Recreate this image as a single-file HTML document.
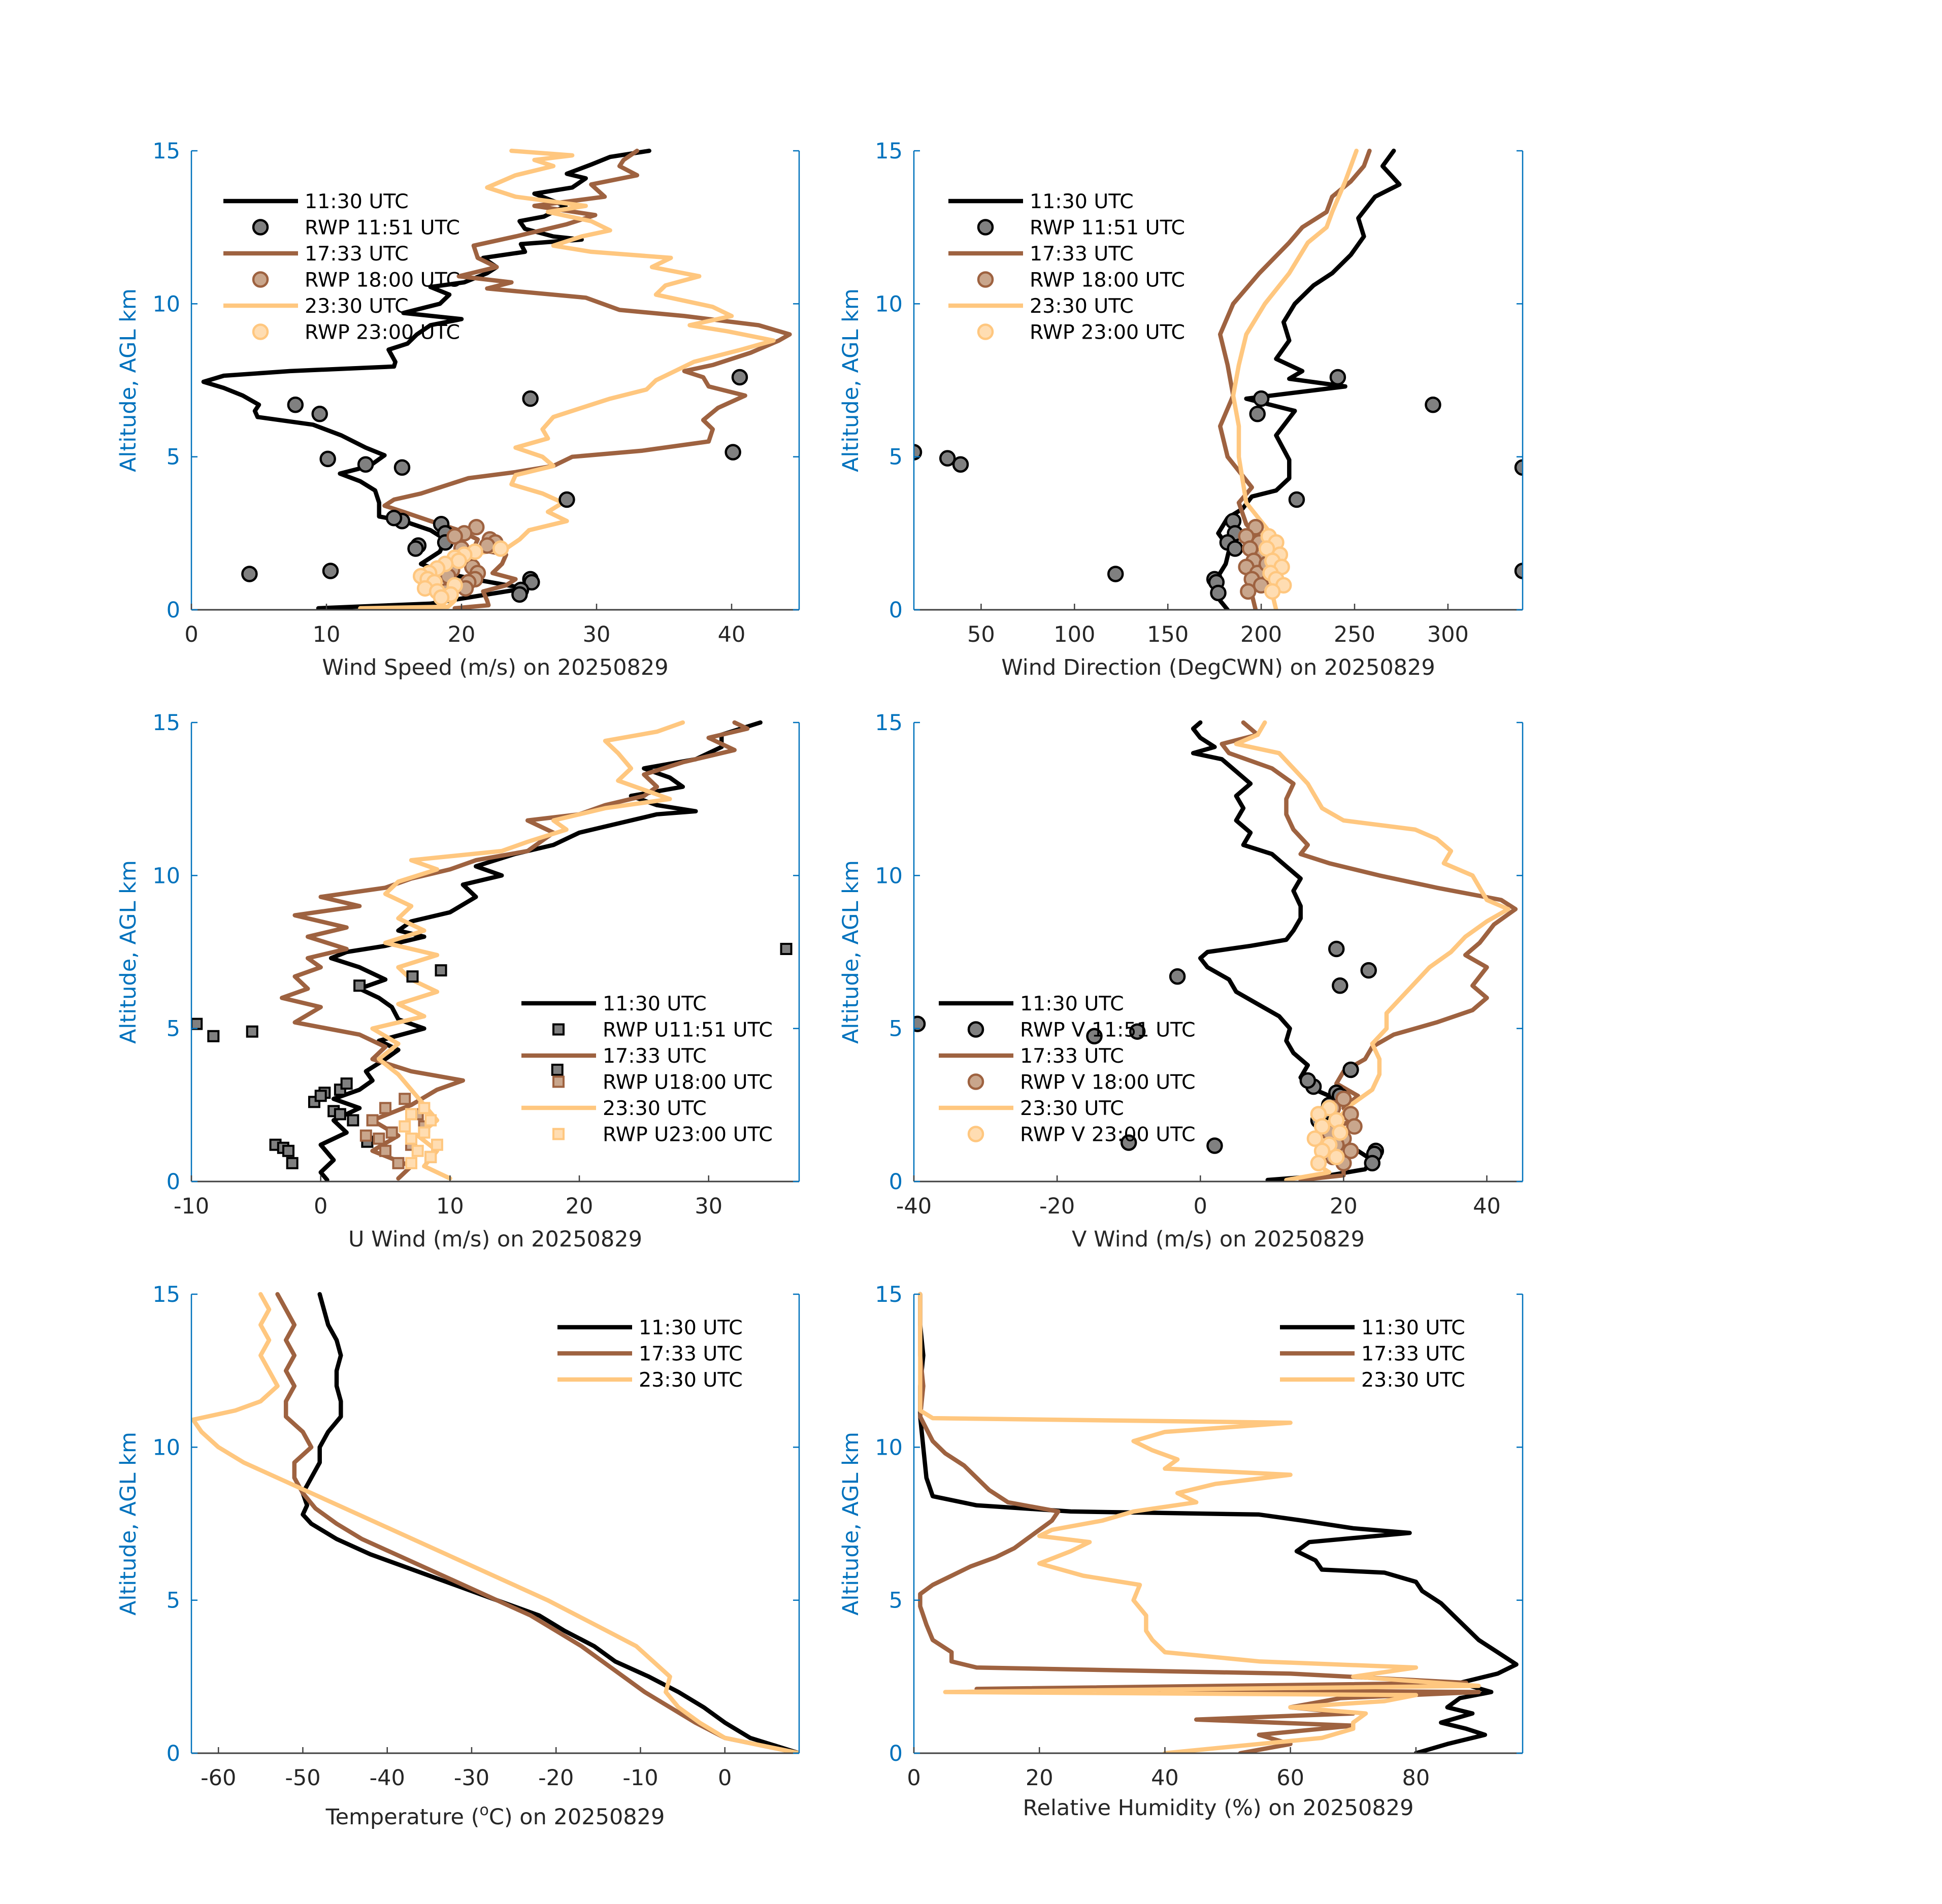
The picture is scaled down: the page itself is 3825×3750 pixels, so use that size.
<!DOCTYPE html>
<html><head><meta charset="utf-8">
<style>
html,body{margin:0;padding:0;background:#fff;}
svg{display:block;font-family:"DejaVu Sans","Liberation Sans",sans-serif;}
</style></head>
<body>
<svg id="fig" width="3825" height="3750" viewBox="0 0 3825 3750" xmlns="http://www.w3.org/2000/svg"></svg>
<script>
// ---------- data ----------
const wsBlack=[[0.05,9.4],[0.2,17.7],[0.7,24.7],[1.0,20.9],[1.2,18.8],[1.5,17.0],[1.9,18.4],[2.3,18.8],[2.6,17.7],[2.9,15.7],[3.05,13.9],[3.5,13.9],[3.9,13.6],[4.2,12.5],[4.45,11.0],[4.7,13.2],[5.05,14.3],[5.3,12.9],[5.7,11.1],[6.05,9.0],[6.3,4.9],[6.5,4.7],[6.7,5.0],[7.0,3.8],[7.25,2.4],[7.45,0.9],[7.65,2.4],[7.8,7.3],[7.95,15.0],[8.1,15.1],[8.5,14.6],[8.7,16.0],[9.0,16.7],[9.3,17.7],[9.5,20.0],[9.7,15.7],[10.0,18.4],[10.3,19.1],[10.55,17.7],[10.7,20.2],[11.0,21.9],[11.2,22.6],[11.5,21.6],[11.7,24.7],[11.95,24.4],[12.1,28.9],[12.2,26.8],[12.45,24.7],[12.7,24.3],[12.85,26.1],[13.2,27.7],[13.6,25.4],[13.8,28.2],[14.1,29.2],[14.25,27.8],[14.55,29.6],[14.8,31.0],[15.0,33.9]];
const wsBrown=[[0.05,19.5],[0.15,22],[0.3,21.9],[0.6,21.6],[0.8,23.3],[1.0,24],[1.2,22.3],[1.5,23],[1.8,23.3],[2.0,20.9],[2.3,21.2],[2.6,19.8],[2.9,17.7],[3.2,15.7],[3.4,14.3],[3.6,15],[3.8,17],[4.0,18.4],[4.3,20.5],[4.5,24],[4.7,26.8],[5.0,28.2],[5.2,33.4],[5.5,38.3],[5.9,38.6],[6.2,37.9],[6.6,39],[7.0,41],[7.3,38.3],[7.6,37.9],[7.8,36.5],[8.0,38.6],[8.4,41.4],[8.8,43.5],[9.0,44.3],[9.3,42],[9.6,36.5],[9.8,31.7],[10.2,29.2],[10.5,21.9],[10.7,23.7],[10.9,19.8],[11.2,22.6],[11.5,21.2],[11.9,20.9],[12.2,24],[12.6,27.8],[12.9,29.9],[13.2,25.4],[13.5,30.6],[13.9,29.6],[14.2,33],[14.5,31.7],[14.7,32],[15,33]];
const wsOrange=[[0.05,12.5],[0.1,19],[0.3,19.5],[0.6,19.1],[1.0,17.7],[1.4,18.8],[1.8,20.5],[2.0,23.3],[2.3,24.3],[2.6,25],[2.9,27.8],[3.2,26.4],[3.5,27.5],[3.8,26],[4.1,23.7],[4.4,24],[4.7,26.8],[5.0,26],[5.3,24],[5.6,26.4],[5.9,26],[6.3,26.8],[6.6,28.9],[6.9,31],[7.2,33.7],[7.5,34.4],[7.8,35.8],[8.1,37.2],[8.5,40.7],[8.8,43.1],[9.1,39.7],[9.3,36.9],[9.6,40],[9.9,38.6],[10.3,34.4],[10.6,35.1],[10.9,37.6],[11.2,34.1],[11.5,35.5],[11.7,29.6],[11.9,26.8],[12.2,28.9],[12.4,31],[12.7,29.6],[13.0,26.4],[13.2,29.2],[13.5,24],[13.8,21.9],[14.2,24],[14.5,26.8],[14.7,25.4],[14.85,28.2],[15,23.7]];
const wsRwp1151=[[1.17,4.3],[1.27,10.3],[4.93,10.1],[4.75,12.9],[4.65,15.6],[6.7,7.7],[6.4,9.5],[6.9,25.1],[7.6,40.6],[5.15,40.1],[3.6,27.8],[2.9,15.6],[3.0,15.0],[2.8,18.5],[2.5,18.8],[2.2,18.8],[2.1,16.8],[2.0,16.6],[1.0,25.1],[0.9,25.2],[0.65,24.4],[0.5,24.3]];
const wsRwp1800=[[2.7,21.1],[2.5,20.2],[2.4,19.5],[2.3,22.1],[2.2,22.5],[2.1,21.9],[2.0,20.0],[1.7,20.5],[1.4,20.8],[1.2,21.2],[1.0,21.0],[0.9,20.5],[0.8,19.5],[0.7,20.3],[0.6,18.8],[1.3,19.3],[1.1,19.0]];
const wsRwp2300=[[2.0,22.9],[1.9,21.0],[1.8,20.2],[1.7,19.5],[1.6,19.8],[1.5,18.8],[1.35,18.2],[1.2,17.6],[1.1,17.0],[1.0,17.5],[0.9,18.0],[0.8,19.5],[0.7,17.3],[0.6,18.2],[0.5,19.2],[0.4,18.5]];

const wdBlack=[[0,182],[0.3,178],[0.6,175],[1.0,176],[1.5,181],[2.0,183],[2.5,177],[3.0,182],[3.3,190],[3.7,195],[3.9,208],[4.3,215],[4.9,215],[5.7,208],[6.5,218],[6.9,192],[7.3,245],[7.55,215],[7.8,222],[8.2,208],[8.8,215],[9.4,212],[10.0,218],[10.6,228],[11.0,238],[11.6,248],[12.2,255],[12.8,252],[13.5,261],[13.9,274],[14.5,265],[15,271]];
const wdBrown=[[0,197],[0.5,195],[1.0,200],[1.5,194],[2.0,198],[2.5,196],[2.8,192],[3.5,188],[4.0,195],[5.0,182],[6.0,178],[7.0,185],[8.0,182],[9.0,178],[10.0,185],[11.0,199],[12.0,215],[12.5,222],[13.0,235],[13.5,238],[14.0,248],[14.5,255],[15,258]];
const wdOrange=[[0,208],[0.5,206],[1.0,210],[1.5,205],[2.0,209],[2.5,205],[3.5,192],[5.0,188],[6.0,188],[7.0,185],[8.0,188],[9.0,192],[10.0,202],[11.0,215],[12.0,225],[12.5,235],[13.0,238],[14.0,245],[15,251]];
const wdRwp1151=[[5.15,14],[4.95,32],[4.75,39],[1.17,122],[4.65,340],[1.27,340],[6.7,292],[7.6,241],[3.6,219],[6.9,200],[6.4,198],[2.9,185],[2.5,186],[2.2,182],[2.0,186],[1.0,175],[0.9,176],[0.55,177]];
const wdRwp1800=[[2.7,197],[2.4,192],[2.2,199],[2.0,194],[1.8,201],[1.6,196],[1.4,192],[1.2,198],[1.0,195],[0.8,200],[0.6,193],[1.5,203]];
const wdRwp2300=[[2.4,204],[2.2,208],[2.0,203],[1.8,210],[1.6,206],[1.4,211],[1.2,205],[1.0,208],[0.8,212],[0.6,206]];

const uBlack=[[0.05,0.5],[0.3,0],[0.7,1],[1.2,0],[1.6,2],[2.0,1],[2.4,3],[2.7,1],[3.0,3],[3.3,4],[3.6,3.5],[4.0,5],[4.3,6],[4.6,4.5],[5.0,8],[5.3,6],[5.7,5.5],[6.0,4.5],[6.3,3],[6.6,5],[7.0,3],[7.3,0.8],[7.5,2],[7.7,5],[8.0,8],[8.2,6],[8.5,7],[8.8,10],[9.3,12],[9.7,11],[10.0,14],[10.3,12],[10.7,15],[11.0,18],[11.4,20],[11.7,23],[12.0,26],[12.1,29],[12.3,26],[12.6,24],[12.9,28],[13.2,27],[13.5,25],[13.8,29],[14.2,31],[14.6,31],[15,34]];
const uBrown=[[0.1,6],[0.5,7],[1,4],[1.5,6],[2,4],[2.5,7],[3.0,9],[3.3,11],[3.6,7],[4.0,4],[4.4,5],[4.8,3],[5.2,-2],[5.7,0],[6.0,-3],[6.3,-1],[6.7,-2],[7.0,0],[7.3,-1],[7.6,2],[8.0,-1],[8.3,2],[8.7,-2],[9.0,3],[9.3,0],[9.6,5],[9.9,7],[10.2,10],[10.5,12],[10.8,16],[11.1,17],[11.4,18],[11.8,16],[12.0,20],[12.3,22],[12.6,25],[12.9,26],[13.3,25],[13.7,28],[14.1,32],[14.5,30],[14.8,33],[15,32]];
const uOrange=[[0.1,10],[0.5,8],[1,9],[1.5,7.5],[2,9],[2.5,8],[3,7],[3.5,6],[4,4.5],[4.5,6],[5,4],[5.4,8],[5.8,6],[6.2,9],[6.6,7],[7,6],[7.4,9],[7.8,5],[8.2,8],[8.6,6],[9,7],[9.4,5],[9.8,6],[10.2,9],[10.5,7],[10.8,14],[11.1,16],[11.5,19],[11.8,18],[12.2,22],[12.5,27],[12.8,25],[13.1,23],[13.5,24],[14,23],[14.4,22],[14.7,26],[15,28]];
const uRwp1151=[[5.15,-9.6],[4.9,-5.3],[4.75,-8.3],[7.6,36],[6.9,9.3],[6.7,7.1],[6.4,3],[3.65,18.3],[1.2,-3.5],[1.1,-2.9],[1.0,-2.5],[0.6,-2.2],[2.3,1],[2.6,-0.5],[2.9,0.3],[3.0,1.5],[3.2,2],[2.0,2.5],[1.3,3.6],[2.2,1.5],[2.8,0]];
const uRwp1800=[[2.7,6.5],[2.4,5],[2.2,7.5],[2.0,4],[1.8,8],[1.6,5.5],[1.4,4.5],[1.2,7],[1.0,5],[0.8,8.5],[0.6,6],[1.5,3.5]];
const uRwp2300=[[2.4,8],[2.2,7],[2.0,8.5],[1.8,6.5],[1.6,8],[1.4,7],[1.2,9],[1.0,7.5],[0.8,8.5],[0.6,7]];

const vBlack=[[0.05,9.4],[0.2,18],[0.4,23],[0.7,24],[1.0,22],[1.3,18],[1.6,17],[2.0,16],[2.4,19],[2.8,18],[3.1,15],[3.4,14],[3.8,15],[4.2,13],[4.6,12],[5.0,12.5],[5.4,11],[5.8,8],[6.2,5],[6.6,4],[7.0,1],[7.3,0],[7.5,1],[7.7,7],[7.9,12],[8.2,13],[8.6,14],[9.0,14],[9.5,13],[9.9,14],[10.3,12],[10.7,10],[11.0,6],[11.4,7],[11.8,5],[12.2,6],[12.6,5],[13.0,7],[13.4,5],[13.8,3],[14.0,-1],[14.2,2],[14.5,0],[14.8,-1],[15,0]];
const vBrown=[[0.05,14],[0.2,20],[0.5,20],[0.8,18],[1.2,20],[1.6,18],[2.0,21],[2.4,20],[2.8,22],[3.2,19],[3.6,20],[4.0,23],[4.4,24],[4.8,27],[5.2,33],[5.6,38],[6.0,40],[6.4,38],[7.0,40],[7.4,37],[7.8,39],[8.4,41],[8.9,44],[9.2,42],[9.6,33],[10.0,25],[10.4,18],[10.7,14],[11.0,15],[11.5,13],[12.0,12],[12.5,12],[13,13],[13.5,10],[14,4],[14.3,3],[14.6,8],[15,6]];
const vOrange=[[0.05,12],[0.3,18],[0.6,16],[1.0,17],[1.5,18],[2.0,19],[2.5,21],[3.0,24],[3.5,25],[4.0,25],[4.5,24],[5.0,26],[5.5,26],[6.0,28],[6.5,30],[7.0,32],[7.5,35],[8.0,37],[8.5,40],[8.9,43],[9.2,40],[9.6,39],[10.0,38],[10.4,34],[10.8,35],[11.2,33],[11.5,30],[11.8,20],[12.2,17],[12.6,16],[13,15],[13.5,13],[14,11],[14.3,5],[14.6,8],[15,9]];
const vRwp1151=[[5.15,-39.5],[4.75,-14.8],[4.9,-8.8],[1.27,-10],[1.17,2],[6.7,-3.2],[6.4,19.5],[7.6,19],[6.9,23.5],[3.65,21],[2.9,19],[2.8,19.5],[2.5,18],[2.2,17],[2.0,16.5],[3.1,15.8],[1.0,24.5],[0.9,24.3],[0.6,24],[3.3,15]];
const vRwp1800=[[2.7,20],[2.4,18.5],[2.2,21],[2.0,19],[1.8,21.5],[1.6,18],[1.4,20],[1.2,19],[1.0,21],[0.8,18.5],[0.6,20]];
const vRwp2300=[[2.4,18],[2.2,16.5],[2.0,19],[1.8,17],[1.6,19.5],[1.4,16],[1.2,18],[1.0,17],[0.8,19],[0.6,16.5]];

const tBlack=[[0,8.8],[0.5,3],[1.0,0],[1.5,-2.5],[2.0,-5.5],[2.5,-9],[3.0,-13],[3.5,-15.5],[4.0,-19],[4.5,-22],[5,-27],[5.5,-32],[6,-37],[6.5,-42],[7,-46],[7.5,-49],[7.8,-50],[8.1,-49.5],[8.5,-50],[9,-49],[9.5,-48],[10,-48],[10.5,-47],[11,-45.5],[11.5,-45.5],[12,-46],[12.5,-46],[13,-45.5],[13.5,-46],[14,-47],[14.5,-47.5],[15,-48]];
const tBrown=[[0,8.8],[0.5,0],[1,-3.5],[1.5,-6.5],[2,-9.5],[2.5,-12],[3,-14.5],[3.5,-17],[4,-20],[4.5,-23],[5,-27],[5.5,-31],[6,-35],[6.5,-39],[7,-43],[7.5,-46],[8,-48.5],[8.5,-50],[9,-51],[9.5,-51],[10,-49],[10.5,-50],[11,-52],[11.5,-52],[12,-51],[12.5,-52],[13,-51],[13.5,-52],[14,-51],[14.5,-52],[15,-53]];
const tOrange=[[0,8.8],[0.5,0],[1,-3],[1.5,-5.5],[2,-7],[2.5,-6.5],[3,-8.5],[3.5,-10.5],[4,-14],[4.5,-17.5],[5,-21],[5.5,-25],[6,-29],[6.5,-33],[7,-37],[7.5,-41],[8,-45],[8.5,-49],[9,-53],[9.5,-57],[10,-60],[10.5,-62],[10.9,-63],[11.2,-58],[11.5,-55],[12,-53],[12.5,-54],[13,-55],[13.5,-54],[14,-55],[14.5,-54],[15,-55]];

const rhBlack=[[0,80],[0.3,85],[0.6,91],[0.8,88],[1.0,84],[1.3,89],[1.5,85],[1.8,87],[2.0,92],[2.3,87],[2.6,93],[2.9,96],[3.3,93],[3.7,90],[4.1,88],[4.5,86],[4.9,84],[5.3,81],[5.6,80],[5.9,75],[6.0,65],[6.3,64],[6.6,61],[6.9,63],[7.2,79],[7.35,70],[7.6,62],[7.8,55],[7.9,25],[8.1,10],[8.4,3],[9.0,2],[10,1.5],[11,1],[12,1],[13,1.5],[14,1],[15,1]];
const rhBrown=[[0,52],[0.3,60],[0.6,55],[0.9,70],[1.1,45],[1.3,70],[1.5,60],[1.8,68],[2.0,90],[2.1,10],[2.3,88],[2.6,60],[2.8,10],[3.0,6],[3.3,6],[3.7,3],[4.2,2],[4.8,1],[5.2,1],[5.5,3],[5.8,6],[6.1,9],[6.4,13],[6.7,16],[7.0,18],[7.3,20],[7.6,22],[7.9,23],[8.2,15],[8.6,12],[9.0,10],[9.4,8],[9.8,5],[10.2,3],[10.6,2],[11,1],[12,1.5],[13,1],[14,1],[15,1]];
const rhOrange=[[0,40],[0.2,50],[0.5,65],[0.8,70],[1.0,70],[1.3,72],[1.5,60],[1.7,75],[1.9,80],[2.0,5],[2.2,90],[2.5,70],[2.8,80],[3.0,55],[3.3,40],[3.7,38],[4.0,37],[4.5,37],[5.0,35],[5.5,36],[5.8,27],[6.2,20],[6.6,25],[6.9,28],[7.1,20],[7.3,22],[7.6,30],[7.9,35],[8.2,45],[8.5,42],[8.8,48],[9.1,60],[9.3,40],[9.6,42],[9.9,38],[10.2,35],[10.5,40],[10.8,60],[10.95,3],[11.2,1],[12,1],[13,1],[14,1],[15,1]];

const altTicks=[0,5,10,15];
const wsTicks=[0,10,20,30,40];
const wdTicks=[50,100,150,200,250,300];
const uTicks=[-10,0,10,20,30];
const vTicks=[-40,-20,0,20,40];
const tTicks=[-60,-50,-40,-30,-20,-10,0];
const rhTicks=[0,20,40,60,80];

// ---------- drawing ----------
const NS="http://www.w3.org/2000/svg";
const svg=document.getElementById('fig');
const BLUE="#0072BD", BLK="#000000", BRN="#9E6240", ORG="#FFC77F";
function mk(tag,attrs,parent){const e=document.createElementNS(NS,tag);for(const k in attrs)e.setAttribute(k,attrs[k]);(parent||svg).appendChild(e);return e;}

function panel(cfg){
  const g=mk('g',{});
  
  
  const L=cfg.x0,R=cfg.x1,T=cfg.y0,B=cfg.y1;
  const sx=v=>L+(v-cfg.xmin)/(cfg.xmax-cfg.xmin)*(R-L);
  const sy=a=>B-(a/15)*(B-T);
  const defs=mk('defs',{},g);
  const cp=mk('clipPath',{id:'c'+cfg.name},defs);
  mk('rect',{x:L,y:T-8,width:R-L,height:B-T+8},cp);
  cfg.lines.forEach(s=>{
    const d=s.data.map((p,i)=>(i?'L':'M')+sx(p[1]).toFixed(1)+','+sy(p[0]).toFixed(1)).join(' ');
    const pth=mk('path',{d:d,fill:'none',stroke:s.color,'stroke-width':8.5,'stroke-linejoin':'round','stroke-linecap':'round','clip-path':'url(#c'+cfg.name+')'},g);
    
    
  });
  (cfg.marks||[]).forEach(s=>{
    s.data.forEach(p=>{
      const cx=sx(p[1]),cy=sy(p[0]);
      let m;
      if(s.shape==='sq') m=mk('rect',{x:cx-10,y:cy-10,width:20,height:20,fill:s.fill,stroke:s.edge,'stroke-width':4,'clip-path':'url(#c'+cfg.name+')'},g);
      else m=mk('circle',{cx:cx,cy:cy,r:14,fill:s.fill,stroke:s.edge,'stroke-width':4.5,'clip-path':'url(#c'+cfg.name+')'},g);
      
      
    });
  });
  const ax=mk('line',{x1:L,y1:B,x2:R,y2:B,stroke:'#404040','stroke-width':3},g);
  
  
  const yl=mk('line',{x1:L,y1:T,x2:L,y2:B,stroke:BLUE,'stroke-width':2.5},g);
  
  
  const yr=mk('line',{x1:R,y1:T,x2:R,y2:B,stroke:BLUE,'stroke-width':2.5},g);
  
  
  cfg.xticks.forEach(v=>{
    const x=sx(v);
    mk('line',{x1:x,y1:B,x2:x,y2:B-12,stroke:'#404040','stroke-width':2.5},g);
    const t=mk('text',{x:x,y:B+63,'text-anchor':'middle','font-size':43,fill:'#262626'},g);
    t.textContent=String(v);
    
    
  });
  altTicks.forEach(a=>{
    const y=sy(a);
    mk('line',{x1:L,y1:y,x2:L+12,y2:y,stroke:BLUE,'stroke-width':2.5},g);
    mk('line',{x1:R,y1:y,x2:R-12,y2:y,stroke:BLUE,'stroke-width':2.5},g);
    const t=mk('text',{x:L-22,y:y+15,'text-anchor':'end','font-size':43,fill:BLUE},g);
    t.textContent=a;
    
    
  });
  const ylab=mk('text',{x:0,y:0,'text-anchor':'middle','font-size':43,fill:BLUE,transform:`translate(${L-110},${(T+B)/2}) rotate(-90)`},g);
  ylab.textContent='Altitude, AGL km';
  
  
  const xlab=mk('text',{x:(L+R)/2,y:B+(cfg.xlabY||128),'text-anchor':'middle','font-size':43,fill:'#262626'},g);
  if(cfg.xlabelHTML){xlab.innerHTML=cfg.xlabelHTML;}else xlab.textContent=cfg.xlabel;
  
  
  const lg=mk('g',{},g);
  
  
  cfg.legend.items.forEach((it,i)=>{
    const y=cfg.legend.y+i*51.5;
    const lx=cfg.legend.x;
    if(it.type==='line'){
      mk('line',{x1:lx,y1:y,x2:lx+147,y2:y,stroke:it.color,'stroke-width':8.5},lg);
    }else if(it.type==='sq'){
      mk('rect',{x:lx+73-10,y:y-10,width:20,height:20,fill:it.fill,stroke:it.edge,'stroke-width':4},lg);
    }else{
      mk('circle',{cx:lx+73,cy:y,r:14,fill:it.fill,stroke:it.edge,'stroke-width':4.5},lg);
    }
    const t=mk('text',{x:lx+160,y:y+14,'font-size':39.5,fill:'#000'},lg);
    t.textContent=it.label;
    
    
  });
}

const C1={fill:'#808080',edge:'#000'}, C2={fill:'#C9A68C',edge:'#9E6240'}, C3={fill:'#FFDDB2',edge:'#FFC77F'};
function legItems(a,b,c,shape){return [
  {type:'line',color:BLK,label:'11:30 UTC'},{type:shape,fill:C1.fill,edge:C1.edge,label:a},
  {type:'line',color:BRN,label:'17:33 UTC'},{type:shape,fill:C2.fill,edge:C2.edge,label:b},
  {type:'line',color:ORG,label:'23:30 UTC'},{type:shape,fill:C3.fill,edge:C3.edge,label:c}];}
const three=[{type:'line',color:BLK,label:'11:30 UTC'},{type:'line',color:BRN,label:'17:33 UTC'},{type:'line',color:ORG,label:'23:30 UTC'}];

const X1=[377,1574], X2=[1800,2999];
const Y1=[297,1201], Y2=[1423,2327], Y3=[2549,3453];

panel({name:'wind-speed-panel',x0:X1[0],x1:X1[1],y0:Y1[0],y1:Y1[1],xmin:0,xmax:45,xticks:wsTicks,xlabel:'Wind Speed (m/s) on 20250829',
  lines:[{id:'ws-1130',data:wsBlack,color:BLK},{id:'ws-1733',data:wsBrown,color:BRN},{id:'ws-2330',data:wsOrange,color:ORG}],
  marks:[{id:'ws-rwp-1151',data:wsRwp1151,...C1},{id:'ws-rwp-1800',data:wsRwp1800,...C2},{id:'ws-rwp-2300',data:wsRwp2300,...C3}],
  legend:{x:440,y:396,items:legItems('RWP 11:51 UTC','RWP 18:00 UTC','RWP 23:00 UTC','circ')}});
panel({name:'wind-direction-panel',x0:X2[0],x1:X2[1],y0:Y1[0],y1:Y1[1],xmin:14,xmax:340,xticks:wdTicks,xlabel:'Wind Direction (DegCWN) on 20250829',
  lines:[{id:'wd-1130',data:wdBlack,color:BLK},{id:'wd-1733',data:wdBrown,color:BRN},{id:'wd-2330',data:wdOrange,color:ORG}],
  marks:[{id:'wd-rwp-1151',data:wdRwp1151,...C1},{id:'wd-rwp-1800',data:wdRwp1800,...C2},{id:'wd-rwp-2300',data:wdRwp2300,...C3}],
  legend:{x:1868,y:396,items:legItems('RWP 11:51 UTC','RWP 18:00 UTC','RWP 23:00 UTC','circ')}});
panel({name:'u-wind-panel',x0:X1[0],x1:X1[1],y0:Y2[0],y1:Y2[1],xmin:-10,xmax:37,xticks:uTicks,xlabel:'U Wind (m/s) on 20250829',
  lines:[{id:'u-1130',data:uBlack,color:BLK},{id:'u-1733',data:uBrown,color:BRN},{id:'u-2330',data:uOrange,color:ORG}],
  marks:[{id:'u-rwp-1151',data:uRwp1151,shape:'sq',...C1},{id:'u-rwp-1800',data:uRwp1800,shape:'sq',...C2},{id:'u-rwp-2300',data:uRwp2300,shape:'sq',...C3}],
  legend:{x:1027,y:1976,items:legItems('RWP U11:51 UTC','RWP U18:00 UTC','RWP U23:00 UTC','sq')}});
panel({name:'v-wind-panel',x0:X2[0],x1:X2[1],y0:Y2[0],y1:Y2[1],xmin:-40,xmax:45,xticks:vTicks,xlabel:'V Wind (m/s) on 20250829',
  lines:[{id:'v-1130',data:vBlack,color:BLK},{id:'v-1733',data:vBrown,color:BRN},{id:'v-2330',data:vOrange,color:ORG}],
  marks:[{id:'v-rwp-1151',data:vRwp1151,...C1},{id:'v-rwp-1800',data:vRwp1800,...C2},{id:'v-rwp-2300',data:vRwp2300,...C3}],
  legend:{x:1849,y:1976,items:legItems('RWP V 11:51 UTC','RWP V 18:00 UTC','RWP V 23:00 UTC','circ')}});
panel({name:'temperature-panel',x0:X1[0],x1:X1[1],y0:Y3[0],y1:Y3[1],xmin:-63.2,xmax:8.8,xticks:tTicks,xlabY:140,
  xlabelHTML:'Temperature (<tspan font-size="30" dy="-18">o</tspan><tspan dy="18">C) on 20250829</tspan>',
  lines:[{id:'t-1130',data:tBlack,color:BLK},{id:'t-1733',data:tBrown,color:BRN},{id:'t-2330',data:tOrange,color:ORG}],
  legend:{x:1098,y:2614,items:three}});
panel({name:'humidity-panel',x0:X2[0],x1:X2[1],y0:Y3[0],y1:Y3[1],xmin:0,xmax:97,xticks:rhTicks,xlabY:122,xlabel:'Relative Humidity (%) on 20250829',
  lines:[{id:'rh-1130',data:rhBlack,color:BLK},{id:'rh-1733',data:rhBrown,color:BRN},{id:'rh-2330',data:rhOrange,color:ORG}],
  legend:{x:2521,y:2614,items:three}});
</script>
</body></html>
